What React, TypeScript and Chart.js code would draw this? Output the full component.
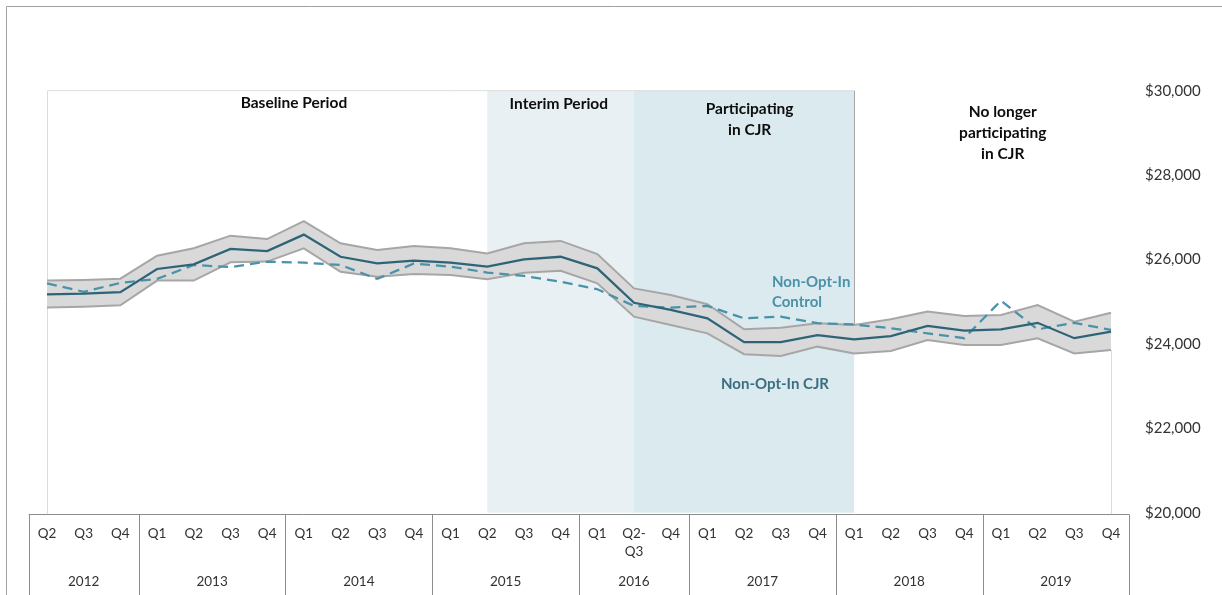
import React, { useEffect, useRef } from "react";
import { Chart, registerables } from "chart.js";

Chart.register(...registerables);

// ---------- data ----------
const quarterLabels: string[] = [
  "Q2", "Q3", "Q4",
  "Q1", "Q2", "Q3", "Q4",
  "Q1", "Q2", "Q3", "Q4",
  "Q1", "Q2", "Q3", "Q4",
  "Q1", "Q2-\nQ3", "Q4",
  "Q1", "Q2", "Q3", "Q4",
  "Q1", "Q2", "Q3", "Q4",
  "Q1", "Q2", "Q3", "Q4",
];

const years: string[] = ["2012", "2013", "2014", "2015", "2016", "2017", "2018", "2019"];
const quartersPerYear: number[] = [3, 4, 4, 4, 3, 4, 4, 4];

const nonOptInCJR: number[] = [
  25175, 25190, 25225, 25775, 25885, 26250, 26200, 26590, 26065, 25910,
  25975, 25925, 25830, 26005, 26065, 25790, 24975, 24805, 24605, 24040,
  24040, 24210, 24105, 24185, 24425, 24315, 24345, 24500, 24135, 24290,
];

const ciUpper: number[] = [
  25500, 25515, 25545, 26090, 26265, 26565, 26485, 26910, 26385, 26225,
  26320, 26265, 26145, 26385, 26440, 26130, 25315, 25160, 24940, 24345,
  24385, 24490, 24450, 24585, 24765, 24660, 24685, 24920, 24525, 24740,
];

const ciLower: number[] = [
  24860, 24880, 24915, 25500, 25500, 25935, 25950, 26265, 25710, 25590,
  25655, 25635, 25530, 25685, 25735, 25435, 24645, 24450, 24250, 23755,
  23715, 23935, 23775, 23830, 24090, 23975, 23975, 24135, 23775, 23855,
];

const nonOptInControl: number[] = [
  25435, 25235, 25445, 25540, 25870, 25820, 25950, 25925, 25870, 25540,
  25905, 25830, 25690, 25610, 25475, 25295, 24900, 24860, 24900, 24605,
  24645, 24490, 24460, 24370, 24250, 24135, 25025, 24345, 24500, 24330,
];

const periodNames: string[][] = [
  ["Baseline Period"],
  ["Interim Period"],
  ["Participating", "in CJR"],
  ["No longer", "participating", "in CJR"],
];
const periodStart: number[] = [0, 12, 16, 22];
const periodEnd: number[] = [12, 16, 22, 29];
const periodLabelAt: number[] = [6.73, 13.95, 19.15, 26.05];
const periodFill: (string | null)[] = [null, "#e8f0f3", "#daeaee", null];

const yMin = 20000;
const yMax = 30000;
const yStep = 2000;

const FONT = "Lato, 'Open Sans', 'DejaVu Sans', sans-serif";

const decorPlugin = {
  id: "decor",
  beforeDraw(chart: any) {
    const { ctx, chartArea, scales } = chart;
    const { top, bottom, left } = chartArea;
    const x = scales.x;
    const y = scales.y;
    ctx.save();
    // outer frame
    ctx.strokeStyle = "#a0a0a0";
    ctx.lineWidth = 1;
    ctx.beginPath();
    ctx.moveTo(6.5, chart.height + 2);
    ctx.lineTo(6.5, 6.5);
    ctx.lineTo(chart.width + 2, 6.5);
    ctx.stroke();

    // shaded periods
    for (let i = 0; i < periodNames.length; i++) {
      const f = periodFill[i];
      if (!f) continue;
      const x0 = x.getPixelForValue(periodStart[i]);
      const x1 = x.getPixelForValue(periodEnd[i]);
      ctx.fillStyle = f;
      ctx.fillRect(x0, top, x1 - x0, bottom - top);
    }

    // plot frame lines
    const xEndPart = x.getPixelForValue(periodEnd[2]);
    ctx.strokeStyle = "#dcdcdc";
    ctx.lineWidth = 1;
    ctx.beginPath();
    ctx.moveTo(left + 0.5, bottom + 2);
    ctx.lineTo(left + 0.5, top);
    ctx.lineTo(xEndPart, top);
    ctx.stroke();

    ctx.strokeStyle = "#a8a8a8";
    ctx.beginPath();
    ctx.moveTo(Math.round(xEndPart) + 0.5, top);
    ctx.lineTo(Math.round(xEndPart) + 0.5, y.getPixelForValue(ciUpper[periodEnd[2]]));
    ctx.stroke();

    const lastIdx = nonOptInCJR.length - 1;
    const xLast = x.getPixelForValue(lastIdx);
    ctx.strokeStyle = "#dcdcdc";
    ctx.beginPath();
    ctx.moveTo(Math.round(xLast) + 0.5, y.getPixelForValue(ciLower[lastIdx]));
    ctx.lineTo(Math.round(xLast) + 0.5, bottom + 2);
    ctx.stroke();
    ctx.restore();
  },
  afterDraw(chart: any) {
    const { ctx, chartArea, scales } = chart;
    const { top, bottom } = chartArea;
    const x = scales.x;
    const y = scales.y;
    const step = x.getPixelForValue(1) - x.getPixelForValue(0);
    ctx.save();

    // category table
    const tTop = Math.round(bottom) + 1.5;
    const tLeft = x.getPixelForValue(0) - step / 2;
    const tRight = x.getPixelForValue(quarterLabels.length - 1) + step / 2;
    ctx.strokeStyle = "#8c8c8c";
    ctx.lineWidth = 1;
    ctx.beginPath();
    ctx.moveTo(tLeft, tTop);
    ctx.lineTo(tRight, tTop);
    let idx = 0;
    const bounds: number[] = [tLeft];
    for (let i = 0; i < years.length; i++) {
      idx += quartersPerYear[i];
      bounds.push(x.getPixelForValue(idx - 1) + step / 2);
    }
    for (const b of bounds) {
      const bx = Math.round(b) + 0.5;
      ctx.moveTo(bx, tTop);
      ctx.lineTo(bx, chart.height + 2);
    }
    ctx.stroke();

    ctx.fillStyle = "#333333";
    ctx.font = `13.5px ${FONT}`;
    ctx.textAlign = "center";
    ctx.textBaseline = "middle";
    quarterLabels.forEach((lab, i) => {
      const px = x.getPixelForValue(i);
      lab.split("\n").forEach((ln, k) => {
        ctx.fillText(ln, px, tTop + 19.5 + k * 18);
      });
    });
    for (let i = 0; i < years.length; i++) {
      ctx.fillText(years[i], (bounds[i] + bounds[i + 1]) / 2, tTop + 67.5);
    }

    // period labels
    ctx.fillStyle = "#0d0d0d";
    ctx.font = `bold 15.5px ${FONT}`;
    const firstLineY = [top + 12.5, top + 13, top + 18.5, top + 21.5];
    periodNames.forEach((lines, i) => {
      const px = x.getPixelForValue(periodLabelAt[i]);
      lines.forEach((ln, k) => {
        ctx.fillText(ln, px, firstLineY[i] + k * 20.7);
      });
    });

    // series annotations
    ctx.font = `bold 15px ${FONT}`;
    ctx.textAlign = "left";
    ctx.fillStyle = "#4b91a7";
    const cx = x.getPixelForValue(19.76);
    ctx.fillText("Non-Opt-In", cx, y.getPixelForValue(25470));
    ctx.fillText("Control", cx, y.getPixelForValue(24990));
    ctx.fillStyle = "#3b6e80";
    ctx.fillText("Non-Opt-In CJR", x.getPixelForValue(18.37), y.getPixelForValue(23050));
    ctx.restore();
  },
};

export default function App() {
  const ref = useRef<HTMLCanvasElement | null>(null);

  useEffect(() => {
    if (!ref.current) return;
    Chart.defaults.font.family = FONT;
    const chart = new Chart(ref.current, {
      type: "line",
      data: {
        labels: quarterLabels,
        datasets: [
          {
            label: "Non-Opt-In CJR",
            data: nonOptInCJR,
            borderColor: "#2e6477",
            borderWidth: 2.25,
            pointRadius: 0,
            fill: false,
            tension: 0,
          },
          {
            label: "Non-Opt-In Control",
            data: nonOptInControl,
            borderColor: "#4a92a8",
            borderWidth: 2.25,
            borderDash: [10, 6],
            pointRadius: 0,
            fill: false,
            tension: 0,
          },
          {
            label: "Upper CI",
            data: ciUpper,
            borderColor: "#a6a6a6",
            borderWidth: 2,
            backgroundColor: "#d9d9d9",
            pointRadius: 0,
            fill: "+1",
            tension: 0,
          },
          {
            label: "Lower CI",
            data: ciLower,
            borderColor: "#a6a6a6",
            borderWidth: 2,
            pointRadius: 0,
            fill: false,
            tension: 0,
          },
        ],
      },
      options: {
        animation: false,
        responsive: false,
        devicePixelRatio: 1,
        layout: { padding: { left: 47, top: 90.7, bottom: 82.3, right: 0 } },
        plugins: {
          legend: { display: false },
          tooltip: { enabled: false },
          filler: { drawTime: "beforeDatasetsDraw" } as any,
        },
        scales: {
          x: {
            type: "category",
            offset: false,
            display: false,
          },
          y: {
            position: "right",
            min: yMin,
            max: yMax,
            grid: { display: false, drawTicks: false },
            border: { display: false },
            afterFit: (scale: any) => {
              scale.width = 111;
            },
            ticks: {
              stepSize: yStep,
              padding: 34,
              color: "#333333",
              font: { size: 15, family: FONT },
              callback: (v: any) => "$" + Number(v).toLocaleString("en-US"),
            },
          },
        },
      },
      plugins: [decorPlugin],
    });
    return () => chart.destroy();
  }, []);

  return (
    <div style={{ position: "absolute", left: 0, top: 0, width: 1222, height: 595, background: "#fff" }}>
      <canvas ref={ref} width={1222} height={595} style={{ display: "block" }} />
    </div>
  );
}
